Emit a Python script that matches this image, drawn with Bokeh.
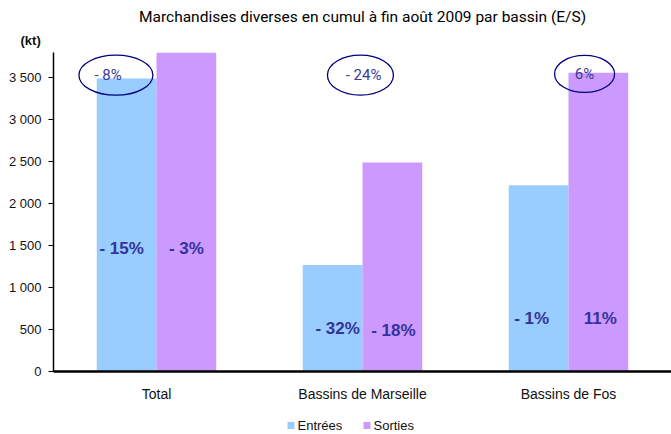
from bokeh.plotting import figure
from bokeh.layouts import column
from bokeh.models import (ColumnDataSource, FactorRange, Range1d, FixedTicker, Title)
from bokeh.transform import dodge
from bokeh.core.properties import value
from bokeh.embed import file_html
from bokeh.resources import INLINE

# ---------------- data ----------------
categories = ["Total", "Bassins de Marseille", "Bassins de Fos"]
entrees = [3490, 1270, 2220]          # kt
sorties = [6050, 2490, 3560]          # kt (Total is clipped by the axis)
var_entrees = ["- 15%", "- 32%", "- 1%"]
var_sorties = ["- 3%", "- 18%", "11%"]
var_total = ["- 8%", "- 24%", "6%"]
y_ticks = [0, 500, 1000, 1500, 2000, 2500, 3000, 3500]
y_tick_labels = ["0", "500", "1 000", "1 500", "2 000", "2 500", "3 000", "3 500"]
series_names = ["Entrées", "Sorties"]
title_text = "Marchandises diverses en cumul à fin août 2009 par bassin (E/S)"
unit_text = "(kt)"

# ---------------- layout constants ----------------
BLUE = "#99CCFF"
PURPLE = "#CC99FF"
LABEL_COLOR = "#333399"
ELLIPSE_COLOR = "#000080"
FONT = "Liberation Sans"
BAR_W = 0.29
entrees_label_y = [1465, 512, 631]
sorties_label_y = [1465, 488, 631]
entrees_label_dx = [-5, 5, -7]     # px
sorties_label_dx = [0, 1, 2]       # px
ellipse_off = [-0.197, -0.01, 0.078]
ellipse_w = [74, 66, 60]
ellipse_h = [40, 40, 37]
ellipse_y = [3530, 3530, 3545]
ellipse_text_off = [-0.235, 0.005, 0.078]
legend_swatch_x = [290.5, 366.5]   # page px in the legend strip
legend_text_x = [297, 373]

src = ColumnDataSource(dict(
    cat=categories, entrees=entrees, sorties=sorties,
    var_e=var_entrees, var_s=var_sorties,
    ye=entrees_label_y, ys=sorties_label_y,
    dxe=entrees_label_dx, dxs=sorties_label_dx,
))

p = figure(x_range=FactorRange(*categories, range_padding=0),
           y_range=Range1d(0, 3800),
           width=671, height=414, output_backend="svg", toolbar_location=None,
           min_border_left=53, min_border_right=0, min_border_top=52, min_border_bottom=43)
p.outline_line_color = None
p.xgrid.grid_line_color = None
p.ygrid.grid_line_color = None
p.background_fill_color = "white"
p.border_fill_color = "white"

# titles: the unit label (closest to the frame) then the main title
p.title.text = title_text
p.title.align = "center"
p.title.offset = -6
p.title.text_font = "Roboto"
p.title.text_font_size = "15.5px"
p.title.text_font_style = "normal"
p.title.text_color = "#000000"
p.title.standoff = 0
p.add_layout(Title(text=unit_text, align="left", offset=-33, text_font=FONT,
                   text_font_size="13px", text_font_style="bold", text_color="#111111",
                   standoff=10), "above")

r1 = p.vbar(x=dodge("cat", -BAR_W / 2, range=p.x_range), top="entrees", width=BAR_W,
            source=src, fill_color=BLUE, line_color=None)
r2 = p.vbar(x=dodge("cat", BAR_W / 2, range=p.x_range), top="sorties", width=BAR_W,
            source=src, fill_color=PURPLE, line_color=None)

p.text(x=dodge("cat", -BAR_W / 2, range=p.x_range), y="ye", text="var_e", source=src,
       x_offset="dxe", text_align="center", text_baseline="middle", text_color=LABEL_COLOR,
       text_font=value(FONT), text_font_style="bold", text_font_size="17px")
p.text(x=dodge("cat", BAR_W / 2, range=p.x_range), y="ys", text="var_s", source=src,
       x_offset="dxs", text_align="center", text_baseline="middle", text_color=LABEL_COLOR,
       text_font=value(FONT), text_font_style="bold", text_font_size="17px")

# ellipses with total variation
ell_src = ColumnDataSource(dict(
    x=[i + 0.5 + o for i, o in enumerate(ellipse_off)],
    tx=[i + 0.5 + o for i, o in enumerate(ellipse_text_off)],
    y=ellipse_y, w=ellipse_w, h=ellipse_h, t=var_total,
))
p.ellipse(x="x", y="y", width="w", height="h", width_units="screen", height_units="screen",
          source=ell_src, fill_color=None, line_color=ELLIPSE_COLOR, line_width=1.3)
p.text(x="tx", y="y", text="t", source=ell_src, text_align="center", text_baseline="middle",
       text_color="#3A3A9A", text_font=value("Roboto"), text_font_size="15px")

# axes
p.yaxis.ticker = FixedTicker(ticks=y_ticks)
p.yaxis.major_label_overrides = {t: l for t, l in zip(y_ticks, y_tick_labels)}
p.yaxis.major_label_text_font = FONT
p.yaxis.major_label_text_font_size = "13px"
p.yaxis.major_label_text_color = "#111111"
p.yaxis.axis_line_color = "black"
p.yaxis.axis_line_width = 1.5
p.yaxis.major_tick_line_color = "black"
p.yaxis.major_tick_out = 5
p.yaxis.major_tick_in = 0
p.yaxis.minor_tick_line_color = None
p.yaxis.major_label_standoff = 7

p.xaxis.axis_line_color = "black"
p.xaxis.axis_line_width = 2.5
p.xaxis.major_tick_line_color = None
p.xaxis.major_tick_out = 0
p.xaxis.major_tick_in = 0
p.xaxis.minor_tick_line_color = None
p.xaxis.major_label_text_font = FONT
p.xaxis.major_label_text_font_size = "14px"
p.xaxis.major_label_text_color = "#111111"
p.xaxis.major_label_standoff = 14

# legend strip below the chart; its frame is aligned with the chart frame (53..671 px)
p2 = figure(width=671, height=20, x_range=Range1d(53, 671), y_range=Range1d(0, 20),
            output_backend="svg", toolbar_location=None, min_border=0)
p2.axis.visible = False
p2.grid.visible = False
p2.outline_line_color = None
leg_src = ColumnDataSource(dict(sx=legend_swatch_x, tx=legend_text_x, name=series_names,
                                color=[BLUE, PURPLE]))
p2.rect(x="sx", y=9, width=7, height=7, source=leg_src, fill_color="color", line_color=None)
p2.text(x="tx", y=9, text="name", source=leg_src, text_align="left", text_baseline="middle",
        text_font=value(FONT), text_font_size="13px", text_color="#111111")

layout = column(p, p2, spacing=0)
open("out.html", "w").write(file_html(layout, INLINE))
